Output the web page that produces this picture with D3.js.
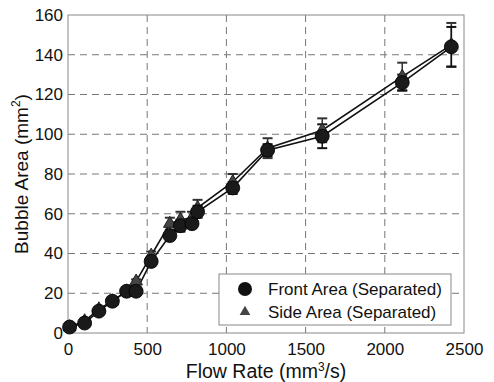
<!DOCTYPE html>
<html>
<head>
<meta charset="utf-8">
<script src="https://cdn.jsdelivr.net/npm/d3@7"></script>
<style>
  body { margin: 0; background: #fff; }
  text { font-family: "Liberation Sans", Arial, sans-serif; fill: #111; }
</style>
</head>
<body>
<div id="chart"></div>
<script>
// flow rate (mm^3/s)
var flow = [10, 105, 195, 280, 370, 430, 525, 643, 710, 783, 818, 1040, 1260, 1605, 2110, 2420];
// front area (separated)
var front = [3, 5, 11, 16, 21, 21, 36, 49, 54, 55, 61, 73, 92, 99, 126, 144];
var frontErr = [1, 1, 1, 1, 1, 1, 2, 2, 3, 2, 3, 3, 3, 6, 4, 10];
// side area (separated)
var side = [3, 6, 12, 16, 21, 26, 39, 55, 57, 58, 63, 76, 93, 102, 129, 145];
var sideErr = [1, 1, 1, 1, 1, 1, 2, 3, 4, 3, 4, 4, 5, 6, 7, 11];
var xTicks = [0, 500, 1000, 1500, 2000, 2500];
var yTicks = [0, 20, 40, 60, 80, 100, 120, 140, 160];
var legendKeys = ["Front Area (Separated)", "Side Area (Separated)"];

var margin = {top: 15, right: 30, bottom: 49, left: 68},
width = 494 - margin.left - margin.right,
height = 382 - margin.top - margin.bottom;

var svg = d3.select("#chart").append("svg")
  .attr("width", 494).attr("height", 382);
var g = svg.append("g")
  .attr("transform", "translate(" + margin.left + "," + margin.top + ")");

var x = d3.scaleLinear().domain([0, 2500]).range([0, width]);
var y = d3.scaleLinear().domain([0, 160]).range([height, 0]);

// grid
g.append("g").selectAll("line").data(xTicks.slice(1, -1)).enter().append("line")
  .attr("x1", d => x(d)).attr("x2", d => x(d)).attr("y1", 0).attr("y2", height)
  .attr("stroke", "#777").attr("stroke-width", 1).attr("stroke-dasharray", "7,5");
g.append("g").selectAll("line").data(yTicks.slice(1, -1)).enter().append("line")
  .attr("y1", d => y(d)).attr("y2", d => y(d)).attr("x1", 0).attr("x2", width)
  .attr("stroke", "#777").attr("stroke-width", 1).attr("stroke-dasharray", "7,5");

// box
g.append("rect").attr("width", width).attr("height", height)
  .attr("fill", "none").attr("stroke", "#888").attr("stroke-width", 1);

// axes
var xAxis = g.append("g").attr("transform", "translate(0," + height + ")")
  .call(d3.axisBottom(x).tickValues(xTicks).tickFormat(d3.format("d")).tickSize(0).tickPadding(10));
var yAxis = g.append("g")
  .call(d3.axisLeft(y).tickValues(yTicks).tickFormat(d3.format("d")).tickSize(0).tickPadding(5));
[xAxis, yAxis].forEach(function(a) {
  a.select(".domain").remove();
  a.selectAll("text").attr("font-size", "17px").attr("fill", "#111")
    .attr("font-family", "Liberation Sans, Arial, sans-serif");
});

// error bars
function errBars(vals, errs, col) {
  var eb = g.append("g").selectAll("g").data(flow).enter().append("g");
  eb.append("line")
    .attr("x1", d => x(d)).attr("x2", d => x(d))
    .attr("y1", (d, i) => y(vals[i] - errs[i])).attr("y2", (d, i) => y(vals[i] + errs[i]))
    .attr("stroke", col).attr("stroke-width", 1.5);
  [-1, 1].forEach(function(s) {
    eb.append("line")
      .attr("x1", d => x(d) - 5).attr("x2", d => x(d) + 5)
      .attr("y1", (d, i) => y(vals[i] + s * errs[i])).attr("y2", (d, i) => y(vals[i] + s * errs[i]))
      .attr("stroke", col).attr("stroke-width", 2);
  });
}
errBars(side, sideErr, "#333");
errBars(front, frontErr, "#111");

// lines
var line = d3.line().x((d, i) => x(flow[i])).y(d => y(d));
g.append("path").datum(side).attr("d", line)
  .attr("fill", "none").attr("stroke", "#111").attr("stroke-width", 1.6);
g.append("path").datum(front).attr("d", line)
  .attr("fill", "none").attr("stroke", "#111").attr("stroke-width", 1.6);

// markers
var tri = d3.symbol().type(d3.symbolTriangle).size(70);
g.append("g").selectAll("path").data(side).enter().append("path")
  .attr("d", tri)
  .attr("transform", (d, i) => "translate(" + x(flow[i]) + "," + y(d) + ")")
  .attr("fill", "#444").attr("stroke", "#222").attr("stroke-width", 1);
g.append("g").selectAll("circle").data(front).enter().append("circle")
  .attr("cx", (d, i) => x(flow[i])).attr("cy", d => y(d)).attr("r", 7)
  .attr("fill", "#1a1a1a").attr("stroke", "#000").attr("stroke-width", 0.8);

// legend
var lg = svg.append("g").attr("transform", "translate(219,274)");
lg.append("rect").attr("width", 232).attr("height", 51)
  .attr("fill", "#fff").attr("stroke", "#888").attr("stroke-width", 1);
lg.append("circle").attr("cx", 26).attr("cy", 15).attr("r", 7).attr("fill", "#111");
lg.append("path").attr("d", d3.symbol().type(d3.symbolTriangle).size(50))
  .attr("transform", "translate(26,38)").attr("fill", "#444");
lg.selectAll("text.k").data(legendKeys).enter().append("text")
  .attr("class", "k")
  .attr("x", 49).attr("y", (d, i) => 21 + 23 * i)
  .attr("font-size", "17px")
  .text(d => d);

// axis titles
var xt = svg.append("text").attr("x", 266).attr("y", 378)
  .attr("text-anchor", "middle").attr("font-size", "19.5px");
xt.append("tspan").text("Flow Rate (mm");
xt.append("tspan").attr("dy", -7).attr("font-size", "12px").text("3");
xt.append("tspan").attr("dy", 7).text("/s)");

var yt = svg.append("text").attr("transform", "translate(28,174) rotate(-90)")
  .attr("text-anchor", "middle").attr("font-size", "19px");
yt.append("tspan").text("Bubble Area (mm");
yt.append("tspan").attr("dy", -8).attr("font-size", "12px").text("2");
yt.append("tspan").attr("dy", 8).text(")");
</script>
</body>
</html>
